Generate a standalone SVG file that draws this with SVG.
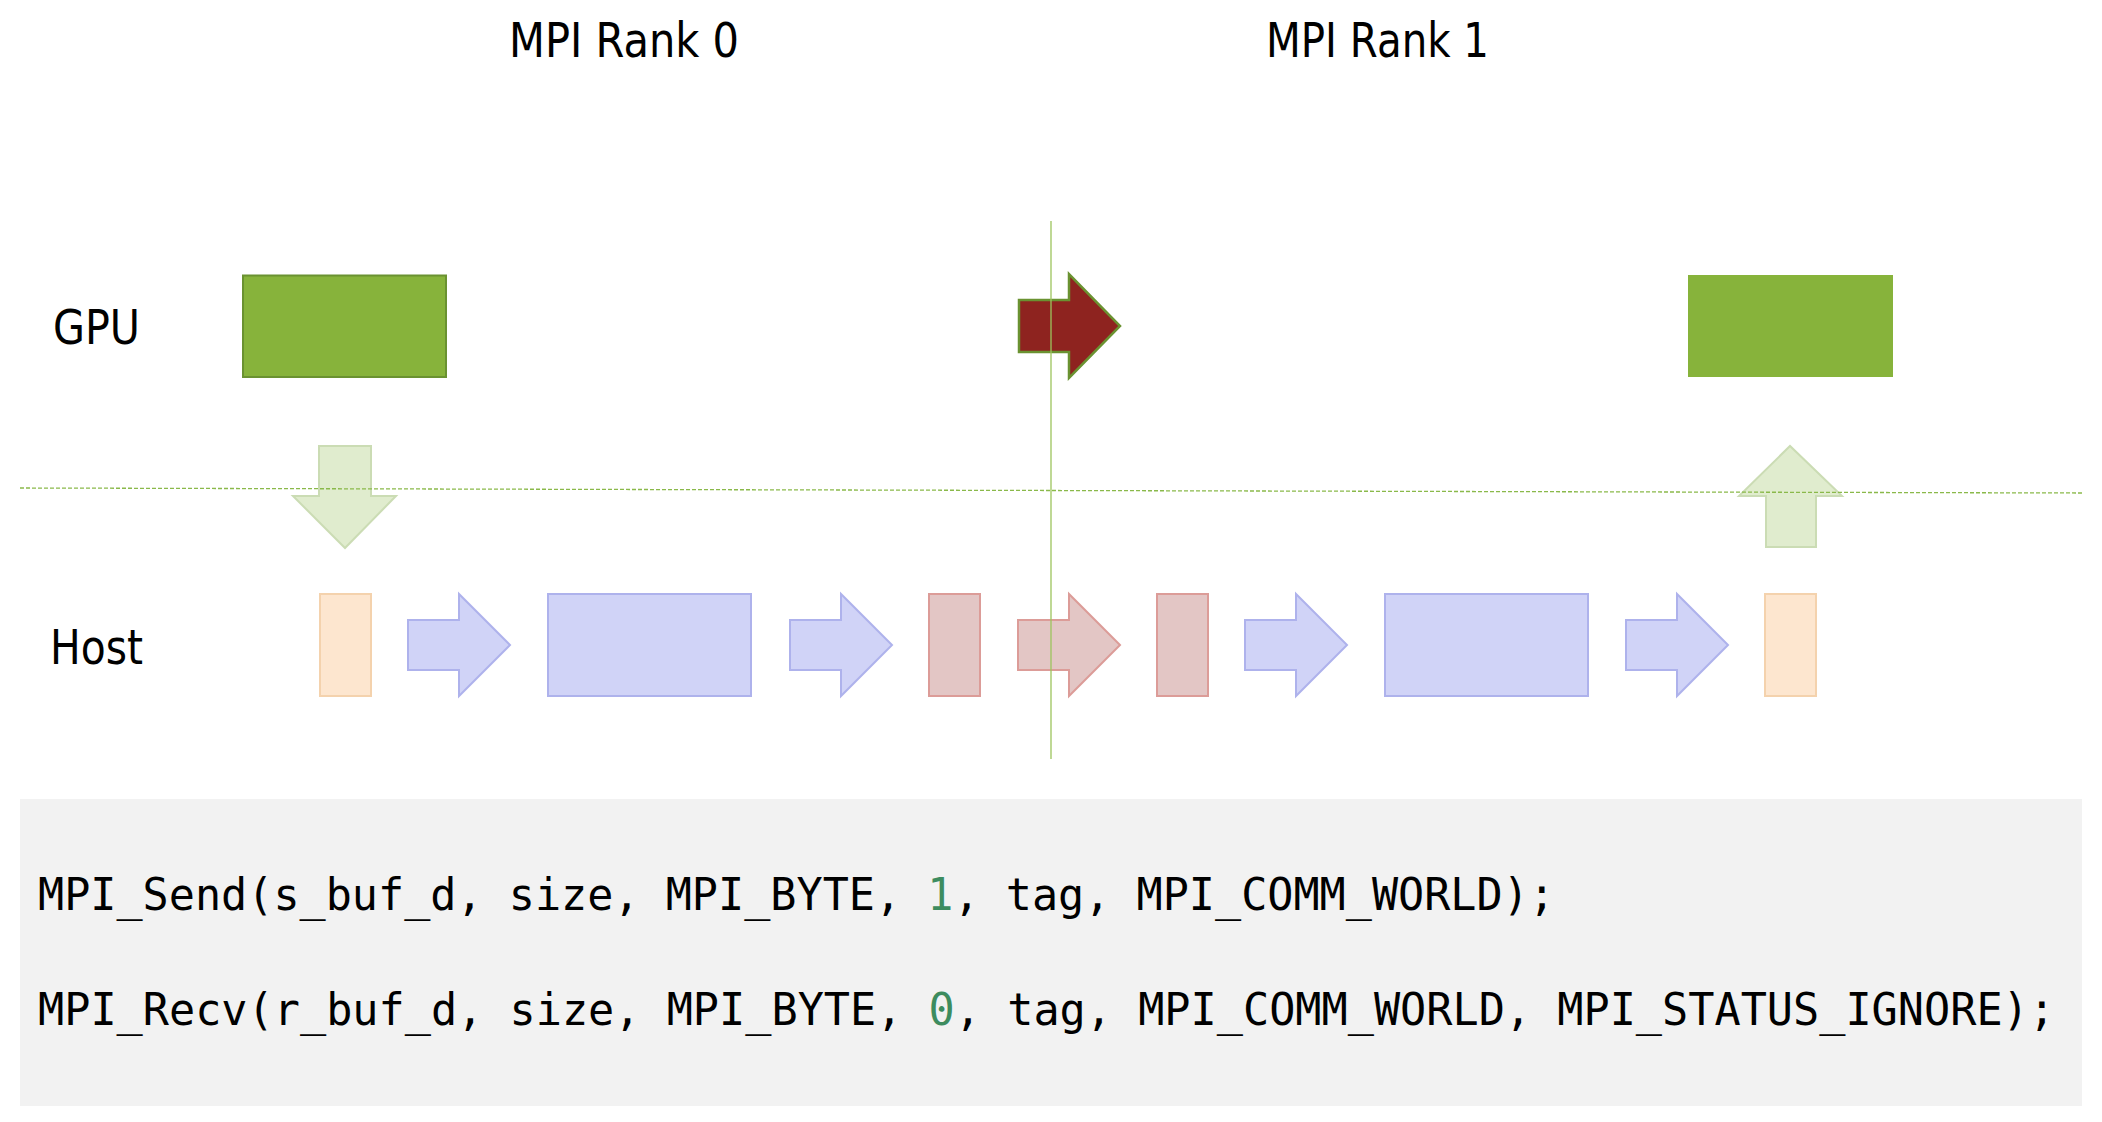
<svg xmlns="http://www.w3.org/2000/svg" width="2102" height="1122" viewBox="0 0 2102 1122">
<style>
.lbl{font-family:"DejaVu Sans","Liberation Sans",sans-serif;font-size:48px;fill:#000}
.code{font-family:"DejaVu Sans Mono","Liberation Mono",monospace;font-size:43.6px;fill:#000}
.num{fill:#3d8c5f}
.gpu{fill:#87b33b}
.blue{fill:#d0d3f7;stroke:#aeb2ec;stroke-width:2}
.red{fill:#e3c6c5;stroke:#dc9c98;stroke-width:2}
.org{fill:#fde6cf;stroke:#f4d2ad;stroke-width:2}
.lg{fill:#e0ecce;stroke:#cbdcb4;stroke-width:2}
</style>
<rect width="2102" height="1122" fill="#fff"/>
<g id="titles">
<text class="lbl" x="509" y="57" textLength="230" lengthAdjust="spacingAndGlyphs">MPI Rank 0</text>
<text class="lbl" x="1266" y="57" textLength="223" lengthAdjust="spacingAndGlyphs">MPI Rank 1</text>
<text class="lbl" x="53" y="344" textLength="87" lengthAdjust="spacingAndGlyphs">GPU</text>
<text class="lbl" x="50" y="664" textLength="93" lengthAdjust="spacingAndGlyphs">Host</text>
</g>
<g id="gpu0"><rect class="gpu" x="243" y="275.5" width="203" height="101.5" stroke="#6a9231" stroke-width="2"/></g>
<g id="gpu1"><rect class="gpu" x="1688" y="275" width="205" height="102"/></g>
<g id="d2h"><polygon class="lg" points="319,446 371,446 371,496 396,496 345,548 293,496 319,496"/></g>
<g id="h2d"><polygon class="lg" points="1766,547 1816,547 1816,496 1842,496 1790,446 1739,496 1766,496"/></g>
<g id="host0"><rect class="org" x="320" y="594" width="51" height="102"/></g>
<g id="ha1"><polygon class="blue" points="408,620 459,620 459,594 510,645 459,696 459,670 408,670"/></g>
<g id="hb1"><rect class="blue" x="548" y="594" width="203" height="102"/></g>
<g id="ha2"><polygon class="blue" points="790,620 841,620 841,594 892,645 841,696 841,670 790,670"/></g>
<g id="hr1"><rect class="red" x="929" y="594" width="51" height="102"/></g>
<g id="hra"><polygon class="red" points="1018,620 1069,620 1069,594 1120,645 1069,696 1069,670 1018,670"/></g>
<g id="hr2"><rect class="red" x="1157" y="594" width="51" height="102"/></g>
<g id="ha3"><polygon class="blue" points="1245,620 1296,620 1296,594 1347,645 1296,696 1296,670 1245,670"/></g>
<g id="hb2"><rect class="blue" x="1385" y="594" width="203" height="102"/></g>
<g id="ha4"><polygon class="blue" points="1626,620 1677,620 1677,594 1728,645 1677,696 1677,670 1626,670"/></g>
<g id="host1"><rect class="org" x="1765" y="594" width="51" height="102"/></g>
<g id="gpuarrow"><polygon points="1019,300 1069,300 1069,274 1120,326 1069,378 1069,352 1019,352" fill="#8e231f" stroke="#6a9231" stroke-width="2.5"/></g>
<g id="connectors">
<line x1="20" y1="488" x2="2083" y2="493" stroke="#8ab94a" stroke-width="1.3" stroke-dasharray="4,2"/>
<line x1="1051" y1="221" x2="1051" y2="759" stroke="#9cc45c" stroke-width="1.3"/>
</g>
<g id="code">
<rect x="20" y="799" width="2062" height="307" fill="#f2f2f2"/>
<text class="code" x="38" y="910" textLength="1517" lengthAdjust="spacingAndGlyphs">MPI_Send(s_buf_d, size, MPI_BYTE, <tspan class="num">1</tspan>, tag, MPI_COMM_WORLD);</text>
<text class="code" x="38" y="1025" textLength="2017" lengthAdjust="spacingAndGlyphs">MPI_Recv(r_buf_d, size, MPI_BYTE, <tspan class="num">0</tspan>, tag, MPI_COMM_WORLD, MPI_STATUS_IGNORE);</text>
</g>
</svg>
